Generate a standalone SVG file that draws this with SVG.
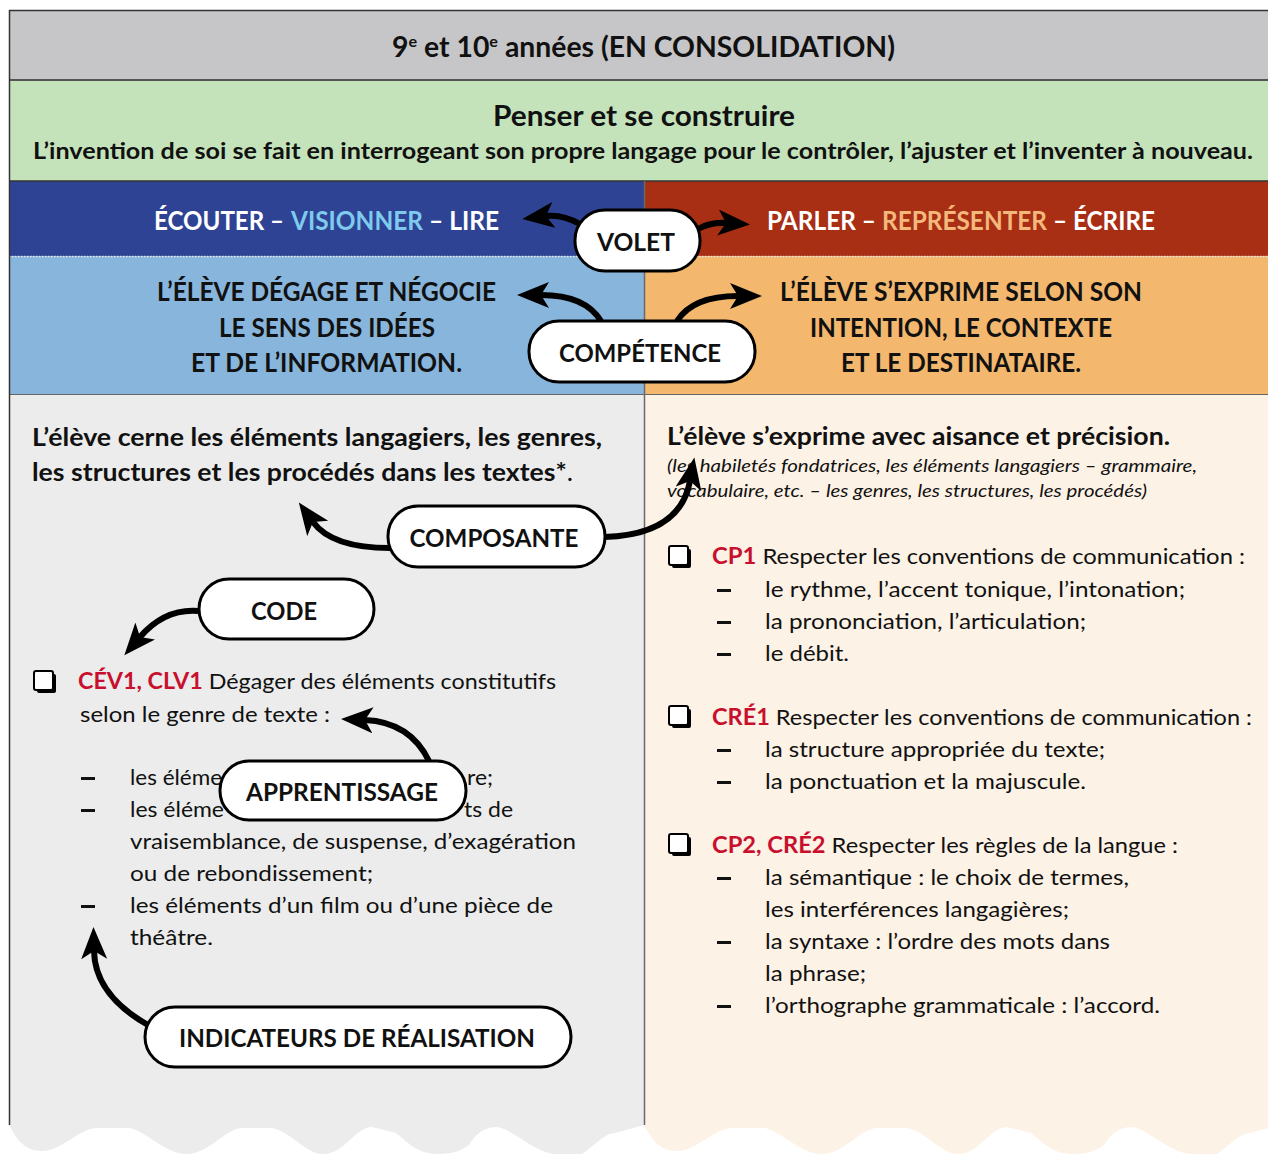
<svg xmlns="http://www.w3.org/2000/svg" xmlns:xlink="http://www.w3.org/1999/xlink" width="1268" height="1154" viewBox="0 0 1268 1154">
<defs>
<style>
.t{font-family:Lato,'Liberation Sans',sans-serif;fill:#111}
.b{font-weight:700}
.i{font-style:italic}
.w{fill:#fff}
.red{fill:#c8102e}
.pill rect{fill:#fff;stroke:#000;stroke-width:3}
.pill text{font-family:Lato,'Liberation Sans',sans-serif;font-weight:700;font-size:25px;fill:#111}
#connectors path{fill:none;stroke:#000;stroke-width:6;marker-end:url(#ah)}
.body{font-size:22px}
</style>
<marker id="ah" markerUnits="userSpaceOnUse" markerWidth="34" markerHeight="28" refX="8" refY="13" orient="auto">
<path d="M0,0 L32,13 L0,26 L8,13 Z" fill="#000"/>
</marker>
<g id="cb">
<rect x="3" y="3" width="19" height="19" rx="2" fill="#000"/>
<rect x="0" y="0" width="19" height="19" rx="2" fill="#fff" stroke="#000" stroke-width="2"/>
</g>
<rect id="dash" width="14" height="3" fill="#111"/>
<path id="wave" d="M9,1125 C15,1135 22,1152 44,1151 C62,1150 80,1128 97,1128 L129,1128 C145,1130 165,1154 186,1154 C210,1154 225,1128 243,1128 L271,1128 C290,1130 305,1154 323,1154 C345,1154 355,1127 372,1127 L396,1133 C410,1145 420,1154 437,1154 C455,1154 462,1150 469,1145 C478,1130 488,1127 497,1127 C515,1130 535,1154 558,1154 L582,1154 C595,1145 605,1133 615,1133 L644,1125 Z"/>
</defs>

<rect width="1268" height="1154" fill="#fff"/>

<!-- bands -->
<rect x="9" y="10" width="1259" height="70" fill="#c6c6c8"/>
<rect x="9" y="80" width="1259" height="101" fill="#c5e3bb"/>
<rect x="9" y="181" width="635" height="75" fill="#2e4393"/>
<rect x="644" y="181" width="624" height="75" fill="#a82e14"/>
<rect x="9" y="256" width="635" height="138" fill="#88b5dc"/>
<rect x="644" y="256" width="624" height="138" fill="#f3b76e"/>
<rect x="9" y="394" width="635" height="731" fill="#ebeceb"/>
<use xlink:href="#wave" fill="#ebeceb"/>
<rect x="644" y="394" width="624" height="731" fill="#fdf2e6"/>
<use xlink:href="#wave" transform="translate(635,0)" fill="#fdf2e6"/>

<!-- lines -->
<line x1="9" y1="10.5" x2="1268" y2="10.5" stroke="#333" stroke-width="1.5"/>
<line x1="9" y1="80" x2="1268" y2="80" stroke="#555" stroke-width="2"/>
<line x1="9" y1="181" x2="1268" y2="181" stroke="#333" stroke-width="1.5"/>
<line x1="9" y1="256.5" x2="1268" y2="256.5" stroke="#e6e6e6" stroke-width="1.5" stroke-dasharray="1.5,1.5"/>
<line x1="9" y1="394.5" x2="1268" y2="394.5" stroke="#666" stroke-width="1"/>
<line x1="644.5" y1="181" x2="644.5" y2="1125" stroke="#6a6a6a" stroke-width="1.5"/>
<line x1="9.5" y1="10" x2="9.5" y2="1125" stroke="#333" stroke-width="1.5"/>

<!-- header texts -->
<text class="t b" x="392" y="57" font-size="28" textLength="503" lengthAdjust="spacingAndGlyphs">9<tspan dy="-10" font-size="16">e</tspan><tspan dy="10"> et 10</tspan><tspan dy="-10" font-size="16">e</tspan><tspan dy="10"> années (EN CONSOLIDATION)</tspan></text>
<text class="t b" x="493" y="126" font-size="28" textLength="302" lengthAdjust="spacingAndGlyphs">Penser et se construire</text>
<text class="t b" x="33" y="159" font-size="22" textLength="1220" lengthAdjust="spacingAndGlyphs">L’invention de soi se fait en interrogeant son propre langage pour le contrôler, l’ajuster et l’inventer à nouveau.</text>

<text class="t b w" x="154" y="230" font-size="26" textLength="130" lengthAdjust="spacingAndGlyphs">ÉCOUTER –</text>
<text class="t b" x="291" y="230" font-size="26" fill="#7ecbee" style="fill:#7ecbee" textLength="132" lengthAdjust="spacingAndGlyphs">VISIONNER</text>
<text class="t b w" x="429" y="230" font-size="26" textLength="70" lengthAdjust="spacingAndGlyphs">– LIRE</text>
<text class="t b w" x="767" y="230" font-size="26" textLength="109" lengthAdjust="spacingAndGlyphs">PARLER –</text>
<text class="t b" x="882" y="230" font-size="26" style="fill:#f5b87c" textLength="165" lengthAdjust="spacingAndGlyphs">REPRÉSENTER</text>
<text class="t b w" x="1053" y="230" font-size="26" textLength="102" lengthAdjust="spacingAndGlyphs">– ÉCRIRE</text>

<text class="t b" x="157" y="301" font-size="26" textLength="339" lengthAdjust="spacingAndGlyphs">L’ÉLÈVE DÉGAGE ET NÉGOCIE</text>
<text class="t b" x="219" y="337" font-size="26" textLength="216" lengthAdjust="spacingAndGlyphs">LE SENS DES IDÉES</text>
<text class="t b" x="191" y="372" font-size="26" textLength="271" lengthAdjust="spacingAndGlyphs">ET DE L’INFORMATION.</text>
<text class="t b" x="780" y="301" font-size="26" textLength="362" lengthAdjust="spacingAndGlyphs">L’ÉLÈVE S’EXPRIME SELON SON</text>
<text class="t b" x="810" y="337" font-size="26" textLength="302" lengthAdjust="spacingAndGlyphs">INTENTION, LE CONTEXTE</text>
<text class="t b" x="841" y="372" font-size="26" textLength="240" lengthAdjust="spacingAndGlyphs">ET LE DESTINATAIRE.</text>

<!-- left column texts -->
<text class="t b" x="32" y="446" font-size="25" textLength="570" lengthAdjust="spacingAndGlyphs">L’élève cerne les éléments langagiers, les genres,</text>
<text class="t" x="32" y="481" font-size="25" textLength="541" lengthAdjust="spacingAndGlyphs"><tspan font-weight="700">les structures et les procédés dans les textes*</tspan>.</text>

<use xlink:href="#cb" x="34" y="671"/>
<text class="t body" x="78" y="689" textLength="478" lengthAdjust="spacingAndGlyphs"><tspan class="red b">CÉV1, CLV1</tspan> Dégager des éléments constitutifs</text>
<text class="t body" x="80" y="722" textLength="250" lengthAdjust="spacingAndGlyphs">selon le genre de texte :</text>

<use xlink:href="#dash" x="81" y="777"/>
<text class="t body" x="130" y="785" textLength="92" lengthAdjust="spacingAndGlyphs">les éléme</text>
<text class="t body" x="467" y="785" textLength="26" lengthAdjust="spacingAndGlyphs">re;</text>
<use xlink:href="#dash" x="81" y="809"/>
<text class="t body" x="130" y="817" textLength="94" lengthAdjust="spacingAndGlyphs">les éléme</text>
<text class="t body" x="464" y="817" textLength="49" lengthAdjust="spacingAndGlyphs">ts de</text>
<text class="t body" x="130" y="849" textLength="446" lengthAdjust="spacingAndGlyphs">vraisemblance, de suspense, d’exagération</text>
<text class="t body" x="130" y="881" textLength="243" lengthAdjust="spacingAndGlyphs">ou de rebondissement;</text>
<use xlink:href="#dash" x="81" y="905"/>
<text class="t body" x="130" y="913" textLength="423" lengthAdjust="spacingAndGlyphs">les éléments d’un film ou d’une pièce de</text>
<text class="t body" x="130" y="945" textLength="83" lengthAdjust="spacingAndGlyphs">théâtre.</text>

<!-- right column texts -->
<text class="t b" x="667" y="445" font-size="25" textLength="503" lengthAdjust="spacingAndGlyphs">L’élève s’exprime avec aisance et précision.</text>
<text class="t i" x="667" y="472" font-size="17" textLength="530" lengthAdjust="spacingAndGlyphs">(les habiletés fondatrices, les éléments langagiers – grammaire,</text>
<text class="t i" x="667" y="497" font-size="17" textLength="480" lengthAdjust="spacingAndGlyphs">vocabulaire, etc. – les genres, les structures, les procédés)</text>

<use xlink:href="#cb" x="669" y="546"/>
<text class="t body" x="712" y="564" textLength="533" lengthAdjust="spacingAndGlyphs"><tspan class="red b">CP1</tspan> Respecter les conventions de communication :</text>
<use xlink:href="#dash" x="717" y="589"/>
<text class="t body" x="765" y="597" textLength="420" lengthAdjust="spacingAndGlyphs">le rythme, l’accent tonique, l’intonation;</text>
<use xlink:href="#dash" x="717" y="621"/>
<text class="t body" x="765" y="629" textLength="321" lengthAdjust="spacingAndGlyphs">la prononciation, l’articulation;</text>
<use xlink:href="#dash" x="717" y="653"/>
<text class="t body" x="765" y="661" textLength="84" lengthAdjust="spacingAndGlyphs">le débit.</text>

<use xlink:href="#cb" x="669" y="706"/>
<text class="t body" x="712" y="725" textLength="540" lengthAdjust="spacingAndGlyphs"><tspan class="red b">CRÉ1</tspan> Respecter les conventions de communication :</text>
<use xlink:href="#dash" x="717" y="749"/>
<text class="t body" x="765" y="757" textLength="340" lengthAdjust="spacingAndGlyphs">la structure appropriée du texte;</text>
<use xlink:href="#dash" x="717" y="781"/>
<text class="t body" x="765" y="789" textLength="321" lengthAdjust="spacingAndGlyphs">la ponctuation et la majuscule.</text>

<use xlink:href="#cb" x="669" y="834"/>
<text class="t body" x="712" y="853" textLength="466" lengthAdjust="spacingAndGlyphs"><tspan class="red b">CP2, CRÉ2</tspan> Respecter les règles de la langue :</text>
<use xlink:href="#dash" x="717" y="877"/>
<text class="t body" x="765" y="885" textLength="364" lengthAdjust="spacingAndGlyphs">la sémantique : le choix de termes,</text>
<text class="t body" x="765" y="917" textLength="304" lengthAdjust="spacingAndGlyphs">les interférences langagières;</text>
<use xlink:href="#dash" x="717" y="941"/>
<text class="t body" x="765" y="949" textLength="345" lengthAdjust="spacingAndGlyphs">la syntaxe : l’ordre des mots dans</text>
<text class="t body" x="765" y="981" textLength="101" lengthAdjust="spacingAndGlyphs">la phrase;</text>
<use xlink:href="#dash" x="717" y="1005"/>
<text class="t body" x="765" y="1013" textLength="395" lengthAdjust="spacingAndGlyphs">l’orthographe grammaticale : l’accord.</text>

<!-- connectors -->
<g id="connectors">
<path d="M580,224 Q562,214 546,216"/>
<path d="M698,229 Q710,222 726,223"/>
<path d="M601,321 Q585,295 541,295"/>
<path d="M677,321 Q693,296 738,296"/>
<path d="M390,548 Q332,548 313,522"/>
<path d="M604,537 Q680,535 690,481"/>
<path d="M199,611 Q165,608 140,637"/>
<path d="M429,761 Q410,722 365,720"/>
<path d="M148,1025 Q95,995 94,951"/>
</g>

<!-- nodes -->
<g id="volet" class="pill">
<rect x="575" y="210" width="125" height="61" rx="30"/>
<text x="636" y="251" text-anchor="middle" textLength="78" lengthAdjust="spacingAndGlyphs">VOLET</text>
</g>
<g id="competence" class="pill">
<rect x="529" y="321" width="226" height="61" rx="30"/>
<text x="640" y="362" text-anchor="middle" textLength="162" lengthAdjust="spacingAndGlyphs">COMPÉTENCE</text>
</g>
<g id="composante" class="pill">
<rect x="388" y="506" width="217" height="61" rx="30"/>
<text x="494" y="547" text-anchor="middle" textLength="169" lengthAdjust="spacingAndGlyphs">COMPOSANTE</text>
</g>
<g id="code" class="pill">
<rect x="199" y="579" width="175" height="60" rx="30"/>
<text x="284" y="620" text-anchor="middle" textLength="66" lengthAdjust="spacingAndGlyphs">CODE</text>
</g>
<g id="apprentissage" class="pill">
<rect x="220" y="761" width="246" height="59" rx="29"/>
<text x="342" y="801" text-anchor="middle" textLength="192" lengthAdjust="spacingAndGlyphs">APPRENTISSAGE</text>
</g>
<g id="indicateurs" class="pill">
<rect x="145" y="1007" width="426" height="60" rx="30"/>
<text x="357" y="1047" text-anchor="middle" textLength="356" lengthAdjust="spacingAndGlyphs">INDICATEURS DE RÉALISATION</text>
</g>
</svg>
